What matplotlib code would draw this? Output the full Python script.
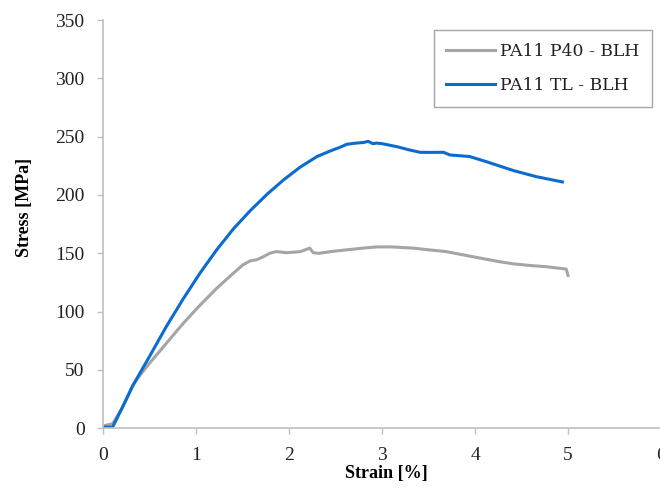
import matplotlib
matplotlib.use("Agg")
import matplotlib.pyplot as plt

# PA11 TL - BLH (blue)
tl_strain = [0.00, 0.10, 0.20, 0.32, 0.50, 0.68, 0.86, 1.04, 1.22, 1.40,
             1.58, 1.76, 1.94, 2.12, 2.30, 2.45, 2.55, 2.62, 2.72, 2.80,
             2.85, 2.90, 2.94, 3.00, 3.16, 3.30, 3.41, 3.52, 3.66, 3.73,
             3.94, 4.12, 4.41, 4.66, 4.94]
tl_stress = [1, 1, 17, 37, 62, 87.5, 111, 133, 153, 171,
             186.5, 200.5, 213, 224, 233, 238, 241, 243.5, 244.5, 245,
             246, 244, 244.5, 244, 241.4, 238.5, 236.6, 236.5, 236.6, 234.3,
             233, 228.6, 221, 215.7, 211.2]

# PA11 P40 - BLH (grey)
p40_strain = [0.00, 0.10, 0.20, 0.32, 0.39, 0.50, 0.68, 0.86, 1.04, 1.22,
              1.40, 1.50, 1.58, 1.65, 1.72, 1.79, 1.86, 1.92, 1.97, 2.05,
              2.12, 2.19, 2.22, 2.26, 2.32, 2.45, 2.62, 2.80, 2.94, 3.10,
              3.33, 3.50, 3.69, 3.85, 4.05, 4.25, 4.41, 4.60, 4.77, 4.98,
              5.00]
p40_stress = [2, 4, 17, 37, 45, 56, 73, 90, 105.5, 120,
              133, 140, 143.5, 144.5, 147, 150, 151.5, 151, 150.5, 151,
              151.5, 153.5, 154.5, 150.5, 150, 151.5, 153, 154.5, 155.5, 155.5,
              154.5, 153, 151.5, 149, 146, 143, 141, 139.5, 138.5, 136.5,
              131]

x_ticks = [0, 1, 2, 3, 4, 5, 6]
y_ticks = [0, 50, 100, 150, 200, 250, 300, 350]

serif = "Liberation Serif"
axis_grey = "#bfbfbf"

fig = plt.figure(figsize=(6.6, 4.88), dpi=100)
ax = fig.add_axes([0.1565, 0.1223, 0.845, 0.8367])

ax.plot(p40_strain, p40_stress, color="#a5a5a5", lw=2.2, label="PA11 P40 - BLH")
ax.plot(tl_strain, tl_stress, color="#0a6ccf", lw=2.2, label="PA11 TL - BLH")

ax.set_xlim(0, 6)
ax.set_ylim(0, 350)
ax.set_xticks(x_ticks)
ax.set_yticks(y_ticks)
for lab in ax.get_xticklabels() + ax.get_yticklabels():
    lab.set_fontfamily(serif)
    lab.set_fontsize(14)
    lab.set_color("#222222")

for side in ["top", "right"]:
    ax.spines[side].set_visible(False)
for side in ["left", "bottom"]:
    ax.spines[side].set_color(axis_grey)
    ax.spines[side].set_linewidth(1.2)
ax.tick_params(direction="out", length=4.5, width=1.0, color=axis_grey, pad=9)

ax.set_xlabel("Strain [%]", fontfamily=serif, fontsize=13, fontweight="bold", va="center")
ax.set_ylabel("Stress [MPa]", fontfamily=serif, fontsize=13, fontweight="bold", va="center")
ax.xaxis.set_label_coords(0.508, -0.1095)
ax.yaxis.set_label_coords(-0.1420, 0.542)

leg = ax.legend(loc="upper right", bbox_to_anchor=(652 / 660, 1 - 30 / 488),
                bbox_transform=fig.transFigure, borderaxespad=0,
                prop={"family": "DejaVu Serif", "size": 12.4},
                fancybox=False, framealpha=1, edgecolor="#a6a6a6",
                handlelength=2.8, handletextpad=0.3, labelspacing=1.0,
                borderpad=0.75)
leg.get_frame().set_linewidth(1.0)
for t in leg.get_texts():
    t.set_color("#222222")

fig.savefig("out.png", dpi=100)
